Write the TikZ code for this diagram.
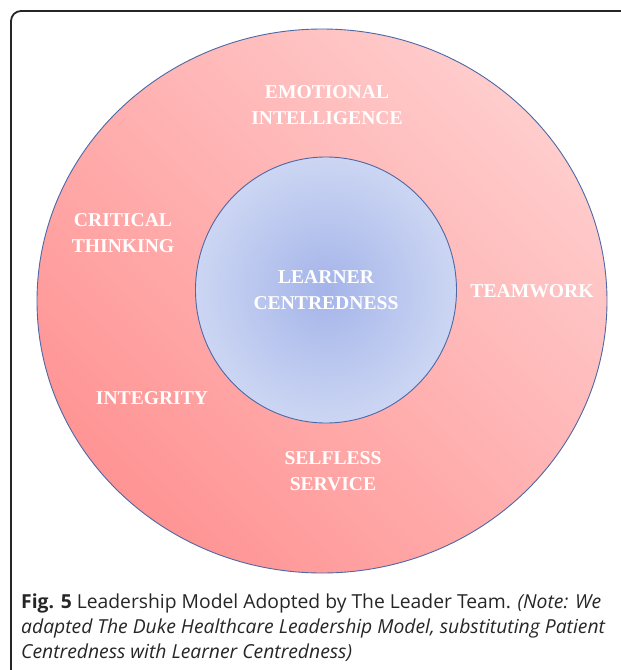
\documentclass[tikz,border=0pt]{standalone}
\usepackage{fontspec}
\setmainfont{Liberation Serif}
\newfontfamily\capfont{Open Sans}
\usepackage{tikz}
\usetikzlibrary{shapes,positioning}

\definecolor{ringdark}{HTML}{FF9494}
\definecolor{ringlight}{HTML}{FFCCCC}
\definecolor{coreinner}{HTML}{A4B4E9}
\definecolor{coreouter}{HTML}{CCD6F3}
\definecolor{edgeblue}{HTML}{4C68A6}

\begin{document}
\begin{tikzpicture}[x=1pt, y=-1pt,
    value/.style={text=white, font=\bfseries\fontsize{19.6}{26}\selectfont, align=center},
    caption/.style={anchor=base west, inner sep=0pt, font=\capfont\fontsize{19.3}{25}\selectfont, text=black!85}]
    \useasboundingbox (0,0) rectangle (621,670);
    \draw[line width=1.8pt, black!85, rounded corners=10pt] (11,690) -- (11,11) -- (640,11);

    % outer ring and centre
    \node[ellipse, draw=edgeblue, line width=0.9pt, minimum width=570pt, minimum height=544pt,
        top color=ringlight, bottom color=ringdark, shading angle=-45] (ring) at (322,301) {};
    \node[ellipse, draw=edgeblue, line width=0.9pt, minimum width=261pt, minimum height=266pt,
        inner color=coreinner, outer color=coreouter, value] (core) at (326,290) {LEARNER\\CENTREDNESS};

    % values round the centre
    \node[value] (emotional) at (327,105) {EMOTIONAL\\INTELLIGENCE};
    \node[value] (critical) at (123,233.5) {CRITICAL\\THINKING};
    \node[value] (teamwork) at (532,291) {TEAMWORK};
    \node[value] (integrity) at (152,398) {INTEGRITY};
    \node[value] (selfless) at (333,471) {SELFLESS\\SERVICE};

    % caption
    \node[caption] (cap1) at (21,608) {\textbf{Fig. 5} Leadership Model Adopted by The Leader Team. \textit{(Note: We}};
    \node[caption] (cap2) at (21,633) {\textit{adapted The Duke Healthcare Leadership Model, substituting Patient}};
    \node[caption] (cap3) at (21,658) {\textit{Centredness with Learner Centredness)}};
\end{tikzpicture}
\end{document}
